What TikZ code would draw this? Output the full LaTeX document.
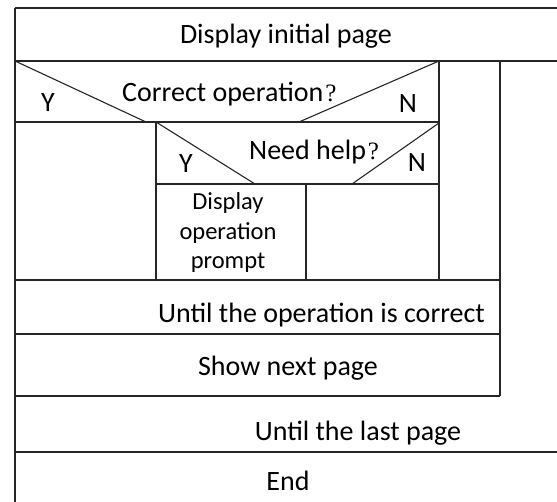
\documentclass[tikz,border=0pt]{standalone}
\usepackage{fontspec}
\setmainfont{Carlito}
\newfontfamily\qfont{Liberation Serif}
\newcommand{\qm}{\kern2pt{\qfont\fontsize{25}{28}\selectfont ?}}
\begin{document}
\begin{tikzpicture}[x=1pt,y=-1pt,
  rule/.style={draw=black!85,line width=1.3pt},
  diag/.style={draw=black!85,line width=1.1pt},
  lbl/.style={inner sep=0pt,font=\fontsize{28}{34}\selectfont},
  small/.style={inner sep=0pt,align=center,font=\fontsize{24.5}{29}\selectfont}]
\useasboundingbox (0,0) rectangle (557,502);
\clip (0,0) rectangle (557,502);
% horizontal rules
\draw[rule] (15,8) -- (557,8);
\draw[rule] (15,61) -- (557,61);
\draw[rule] (15,122) -- (439,122);
\draw[rule] (156,184) -- (439,184);
\draw[rule] (15,280) -- (500,280);
\draw[rule] (15,334) -- (500,334);
\draw[rule] (15,396) -- (500,396);
\draw[rule] (15,452) -- (557,452);
% vertical rules
\draw[rule] (15,8) -- (15,502);
\draw[rule] (439,61) -- (439,280);
\draw[rule] (500,61) -- (500,396);
\draw[rule] (156,122) -- (156,280);
\draw[rule] (306,184) -- (306,280);
% decision diagonals
\draw[diag] (15,61) -- (146,122);
\draw[diag] (439,61) -- (299,122);
\draw[diag] (156,122) -- (255,184);
\draw[diag] (439,123) -- (352,184);
% texts
\node[lbl,anchor=base] (t1) at (286,44) {Display initial page};
\node[lbl,anchor=base west] (c1) at (122,102) {Correct operation\qm};
\node[lbl,anchor=base] (y1) at (48,112) {Y};
\node[lbl,anchor=base] (n1) at (408,113) {N};
\node[lbl,anchor=base west] (c2) at (249,160) {Need help\qm};
\node[lbl,anchor=base] (y2) at (186,173) {Y};
\node[lbl,anchor=base] (n2) at (417,172) {N};
\node[small,anchor=base] (p1) at (228,210) {Display};
\node[small,anchor=base] (p2) at (228,240) {operation};
\node[small,anchor=base] (p3) at (228,269) {prompt};
\node[lbl,anchor=base west] (u1) at (158,323) {Until the operation is correct};
\node[lbl,anchor=base] (s1) at (288,376) {Show next page};
\node[lbl,anchor=base] (u2) at (358,440) {Until the last page};
\node[lbl,anchor=base] (e1) at (288,490) {End};
\end{tikzpicture}
\end{document}
